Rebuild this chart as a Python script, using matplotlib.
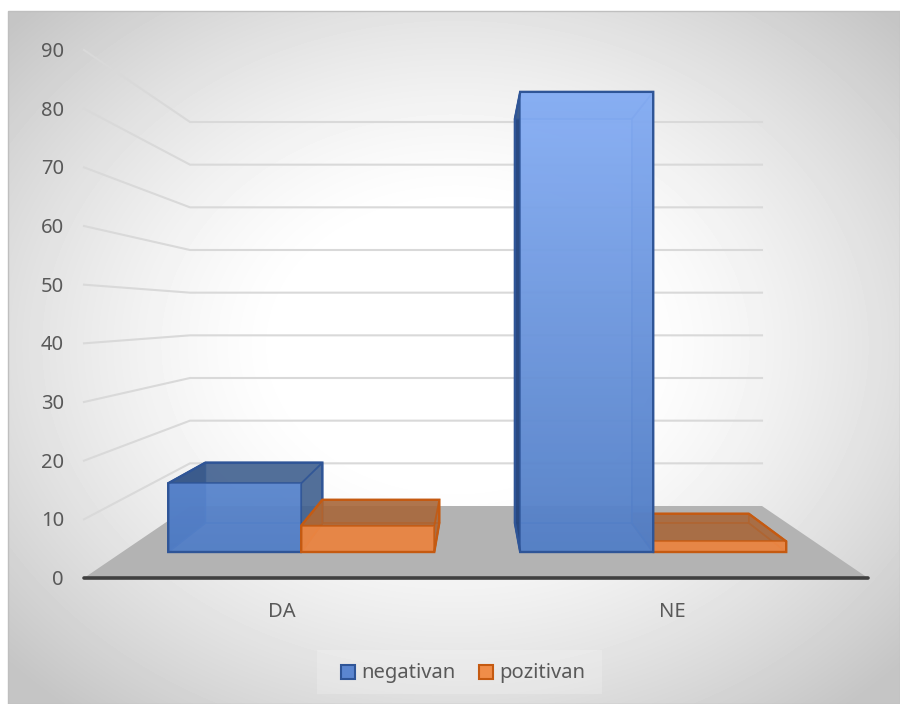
import numpy as np
import matplotlib
matplotlib.use('Agg')
import matplotlib.pyplot as plt
from matplotlib.patches import Polygon, Rectangle

plt.rcParams['font.family'] = ['Noto Sans', 'DejaVu Sans']

kategorije = ['DA', 'NE']
serije = ['negativan', 'pozitivan']
negativan = [13, 87]
pozitivan = [5, 2]
os_y = [0, 10, 20, 30, 40, 50, 60, 70, 80, 90]

W, H = 900, 704
UZ_SIVA = '#595959'

# perspektiva: poda i zid zadani u pikselima slike
POD_PRED = (84, 868, 578)
POD_STRAG = (190, 762, 506)
JED_PRED = 528 / 90
JED_STRAG = 384 / 90
DUB_PRED, DUB_STRAG = 0.361, 0.764
SIRINA_STUPCA = 0.188
ODMAK = 0.065


def proj(u, v, t):
    'u - vodoravno na podu (0-1), v - vrijednost, t - dubina (0 sprijeda, 1 straga)'
    lijevo = POD_PRED[0] + (POD_STRAG[0] - POD_PRED[0]) * t
    desno = POD_PRED[1] + (POD_STRAG[1] - POD_PRED[1]) * t
    y = POD_PRED[2] + (POD_STRAG[2] - POD_PRED[2]) * t
    jed = JED_PRED + (JED_STRAG - JED_PRED) * t
    return lijevo + (desno - lijevo) * u, y - v * jed


def hex2rgb(c):
    return np.array(matplotlib.colors.to_rgb(c))


def gradijent(ax, tocke, gore, dolje, y0, y1, alpha=1.0, z=3):
    'poligon s okomitim prijelazom boje'
    tocke = np.array(tocke)
    x_min, x_max = tocke[:, 0].min(), tocke[:, 0].max()
    y_min, y_max = tocke[:, 1].min(), tocke[:, 1].max()
    r = np.clip((np.linspace(y_min, y_max, 128) - y0) / (y1 - y0), 0, 1)
    boje = hex2rgb(gore)[None, :] * (1 - r)[:, None] + hex2rgb(dolje)[None, :] * r[:, None]
    slika = np.column_stack([boje, np.full(len(r), alpha)]).reshape(len(r), 1, 4)
    im = ax.imshow(slika, extent=(x_min, x_max, y_max, y_min), aspect='auto', zorder=z, interpolation='bilinear')
    maska = Polygon(tocke, closed=True, transform=ax.transData)
    im.set_clip_path(maska)


def obris(tocke):
    'konveksna ljuska kutova stupca'
    t = sorted(set(tocke))
    def pola(niz):
        h = []
        for q in niz:
            while len(h) > 1 and ((h[-1][0] - h[-2][0]) * (q[1] - h[-2][1]) - (h[-1][1] - h[-2][1]) * (q[0] - h[-2][0])) <= 0:
                h.pop()
            h.append(q)
        return h[:-1]
    return pola(t) + pola(t[::-1])


def stupac(ax, u0, v, st, z):
    u1 = u0 + SIRINA_STUPCA
    p = lambda u, h, t: proj(u, h, t)
    t0, t1 = DUB_PRED, DUB_STRAG
    straga = [p(u0, 0, t1), p(u1, 0, t1), p(u1, v, t1), p(u0, v, t1)]
    dno = [p(u0, 0, t0), p(u1, 0, t0), p(u1, 0, t1), p(u0, 0, t1)]
    lijevo = [p(u0, 0, t0), p(u0, v, t0), p(u0, v, t1), p(u0, 0, t1)]
    desno = [p(u1, 0, t0), p(u1, v, t0), p(u1, v, t1), p(u1, 0, t1)]
    vrh = [p(u0, v, t0), p(u1, v, t0), p(u1, v, t1), p(u0, v, t1)]
    sprijeda = [p(u0, 0, t0), p(u1, 0, t0), p(u1, v, t0), p(u0, v, t0)]

    for lice in (straga, dno):
        ax.add_patch(Polygon(lice, closed=True, fc=st['sjena'], ec=st['rub'], lw=1.2, alpha=st['a_sjena'], zorder=z))
    ax.add_patch(Polygon(lijevo, closed=True, fc=st['tamna'], ec=st['rub'], lw=1.2, alpha=0.95, zorder=z + 0.1))
    for lice in (desno, vrh):
        ax.add_patch(Polygon(lice, closed=True, fc=st['sjena'], ec=st['rub'], lw=1.2, alpha=st['a_strana'], zorder=z + 0.1))
    gradijent(ax, sprijeda, st['gore'], st['dolje'], 92, 552, alpha=st['a_front'], z=z + 0.2)
    ax.add_patch(Polygon(sprijeda, closed=True, fc='none', ec=st['rub'], lw=1.2, alpha=0.75, zorder=z + 0.3))
    # vanjski obris cijelog stupca
    ax.add_patch(Polygon(obris(straga + sprijeda), closed=True, fc='none', ec=st['rub'], lw=1.7, zorder=z + 0.3))


stil_neg = dict(gore='#8cb4fc', dolje='#5481ca', sjena='#40608f', tamna='#24457f', rub='#2f5597', a_sjena=0.6, a_strana=0.75, a_front=0.9)
stil_poz = dict(gore='#f08d49', dolje='#ec8745', sjena='#a8683c', tamna='#a8683c', rub='#c55a11', a_sjena=0.7, a_strana=0.7, a_front=0.92)

fig = plt.figure(figsize=(W / 100, H / 100), dpi=100)
fig.patch.set_facecolor('white')
ax = fig.add_axes([0, 0, 1, 1])
ax.axis('off')

# pozadina s radijalnim prijelazom
xx, yy = np.meshgrid(np.arange(8, 900), np.arange(11, 704))
d = np.hypot((xx - 455) / 560, (yy - 345) / 440)
siva = 1.0 - 0.23 * np.clip((d - 0.3) / 0.78, 0, 1) ** 1.35
ax.imshow(siva, cmap='gray', vmin=0, vmax=1, extent=(8, 900, 704, 11), aspect='auto', zorder=0)
ax.add_patch(Rectangle((8, 11), 892, 693, fc='none', ec='#bfbfbf', lw=1, zorder=0.5))
ax.set_xlim(0, W)
ax.set_ylim(H, 0)

# mreza na lijevom i straznjem zidu
for v in os_y[1:]:
    x0, y0 = proj(0, v, 0)
    x1, y1 = proj(0, v, 1)
    x2, y2 = proj(1, v, 1)
    ax.plot([x0, x1, x2], [y0, y1, y2], color='#d9d9d9', lw=1.5, zorder=1, solid_joinstyle='miter')

# pod
ax.add_patch(Polygon([proj(0, 0, 0), proj(1, 0, 0), proj(1, 0, 1), proj(0, 0, 1)], closed=True, fc='#b3b3b3', ec='none', zorder=1.5))

# stupci, najprije oni dalje od sredine
stupci = []
for i in range(len(kategorije)):
    poc = ODMAK + i * 0.4975
    stupci.append((poc, negativan[i], stil_neg))
    stupci.append((poc + SIRINA_STUPCA, pozitivan[i], stil_poz))
stupci.sort(key=lambda s: -abs(s[0] + SIRINA_STUPCA / 2 - 0.5))
for n, (u, v, st) in enumerate(stupci):
    stupac(ax, u, v, st, 3 + n)

# vodoravna os i oznake
x0, y0 = proj(0, 0, 0)
x1, _ = proj(1, 0, 0)
ax.plot([x0, x1], [y0, y0], color='#404040', lw=2.6, zorder=10, solid_capstyle='round')
for v in os_y:
    ax.text(64, proj(0, v, 0)[1] + 2, str(v), ha='right', va='center', fontsize=14.5, color=UZ_SIVA, zorder=11)
for kat, x in zip(kategorije, [282, 672]):
    ax.text(x, 612, kat, ha='center', va='center', fontsize=14.5, color=UZ_SIVA, zorder=11)

# legenda
ax.add_patch(Rectangle((317, 650), 285, 44, fc='white', alpha=0.2, ec='none', zorder=9))
for ime, xk, fc, ec in zip(serije, [341, 479], ['#5b86d0', '#f08d49'], ['#2f5597', '#c55a11']):
    ax.add_patch(Rectangle((xk, 665), 14, 14, fc=fc, ec=ec, lw=1.5, zorder=11))
    ax.text(xk + 20, 673, ime, ha='left', va='center', fontsize=14.5, color=UZ_SIVA, zorder=11)

fig.savefig('out.png', dpi=100)
